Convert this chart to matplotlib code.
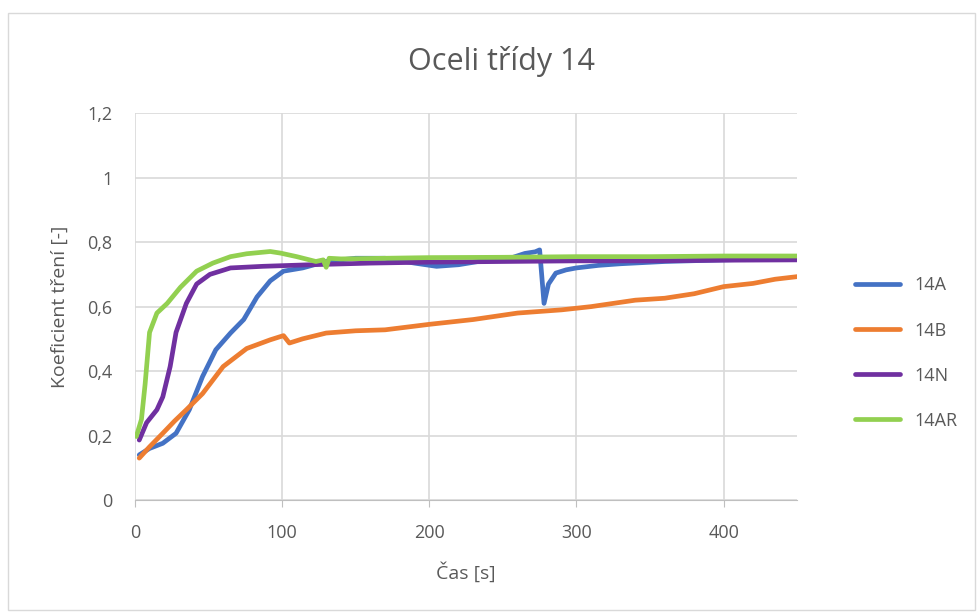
import matplotlib.pyplot as plt
from matplotlib.patches import Rectangle
from matplotlib.ticker import FuncFormatter

# time [s] and friction coefficient for each sample
t_14a = [3, 10, 19, 28, 37, 46, 55, 65, 74, 83, 92, 101, 114, 130, 150, 170, 190, 205, 220, 240, 255, 265, 272, 275, 278, 281, 286, 293, 300, 315, 330, 360, 400, 450]
v_14a = [0.14, 0.16, 0.176, 0.207, 0.28, 0.383, 0.466, 0.518, 0.56, 0.63, 0.68, 0.71, 0.72, 0.74, 0.75, 0.75, 0.735, 0.725, 0.73, 0.745, 0.75, 0.765, 0.77, 0.776, 0.61, 0.67, 0.704, 0.714, 0.72, 0.728, 0.733, 0.74, 0.745, 0.75]

t_14b = [3, 10, 19, 27, 35, 46, 60, 76, 92, 101, 105, 114, 130, 150, 170, 200, 230, 260, 290, 310, 340, 360, 380, 400, 420, 435, 450]
v_14b = [0.13, 0.165, 0.207, 0.245, 0.28, 0.33, 0.414, 0.47, 0.497, 0.51, 0.487, 0.50, 0.518, 0.525, 0.528, 0.545, 0.56, 0.58, 0.59, 0.60, 0.62, 0.626, 0.64, 0.662, 0.672, 0.685, 0.693]

t_14n = [3, 8, 15, 19, 24, 28, 35, 42, 51, 65, 87, 120, 160, 200, 250, 300, 350, 400, 450]
v_14n = [0.186, 0.24, 0.28, 0.32, 0.414, 0.52, 0.61, 0.67, 0.70, 0.72, 0.725, 0.73, 0.735, 0.738, 0.74, 0.742, 0.742, 0.744, 0.745]

t_14ar = [1, 4.5, 7, 10, 15, 22, 31, 42, 53, 65, 76, 92, 99, 110, 123, 128, 130, 132, 140, 170, 200, 250, 300, 350, 400, 450]
v_14ar = [0.197, 0.25, 0.36, 0.52, 0.58, 0.61, 0.66, 0.71, 0.735, 0.755, 0.764, 0.771, 0.766, 0.755, 0.74, 0.745, 0.722, 0.75, 0.748, 0.75, 0.752, 0.753, 0.755, 0.755, 0.757, 0.757]

series = [
    ("14A", t_14a, v_14a, "#4472C4"),
    ("14B", t_14b, v_14b, "#ED7D31"),
    ("14N", t_14n, v_14n, "#7030A0"),
    ("14AR", t_14ar, v_14ar, "#92D050"),
]

plt.rcParams["font.family"] = ["Open Sans", "DejaVu Sans"]
gray = "#595959"

fig = plt.figure(figsize=(9.77, 6.12), dpi=100)
fig.patches.append(Rectangle((0.008, 0.003), 0.99, 0.975, transform=fig.transFigure,
                             fill=False, edgecolor="#d9d9d9", linewidth=1))
ax = fig.add_axes([0.138, 0.183, 0.678, 0.632])

for name, t, v, c in series:
    ax.plot(t, v, color=c, linewidth=3.4, label=name, solid_capstyle="round")

ax.set_xlim(0, 450)
ax.set_ylim(0, 1.2)
ax.set_xticks([0, 100, 200, 300, 400])
ax.set_yticks([0, 0.2, 0.4, 0.6, 0.8, 1.0, 1.2])
ax.yaxis.set_major_formatter(FuncFormatter(lambda y, _: f"{y:.1f}".rstrip("0").rstrip(".").replace(".", ",") if y else "0"))
ax.grid(True, color="#d9d9d9", linewidth=1.2)
ax.set_axisbelow(True)
for s in ["top", "right", "left"]:
    ax.spines[s].set_visible(False)
ax.spines["bottom"].set_color("#bfbfbf")
ax.tick_params(axis="y", length=0, pad=16, labelsize=13, labelcolor=gray)
ax.tick_params(axis="x", length=5, color="#bfbfbf", pad=12, labelsize=13, labelcolor=gray)

ax.set_xlabel("Čas [s]", fontsize=14, color=gray, va="center")
ax.xaxis.set_label_coords(0.5, -0.186)
ax.set_ylabel("Koeficient tření [-]", fontsize=14, color=gray, va="center")
ax.yaxis.set_label_coords(-0.113, 0.5)
fig.text(0.513, 0.9, "Oceli třídy 14", ha="center", va="center", fontsize=22, color=gray)

fig.legend(loc="center left", bbox_to_anchor=(0.875, 0.423), frameon=False, fontsize=13,
           handlelength=2.5, handletextpad=0.8, labelspacing=1.5, borderpad=0,
           borderaxespad=0, labelcolor=gray)

fig.savefig("out.png", dpi=100)
